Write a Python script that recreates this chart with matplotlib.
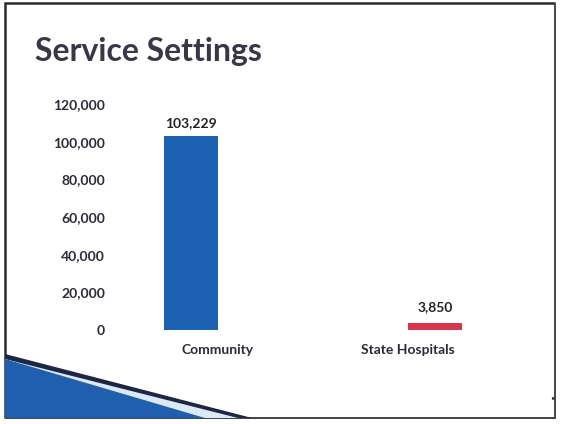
import matplotlib.pyplot as plt
from matplotlib.patches import Polygon

categories = ["Community", "State Hospitals"]
community = [103229, 0]
state_hospitals = [0, 3850]
yticks = [0, 20000, 40000, 60000, 80000, 100000, 120000]

W, H = 561, 424
plt.rcParams['font.family'] = ['Lato', 'DejaVu Sans']
fig = plt.figure(figsize=(W / 100, H / 100), dpi=100)
fig.patch.set_facecolor('white')


def px(x, y):
    # pixel position (from top-left) to figure fraction
    return x / W, 1 - y / H


def shape(points, closed=True, **kw):
    fig.patches.append(Polygon([px(*p) for p in points], closed=closed,
                               transform=fig.transFigure, **kw))


# slide frame
shape([(5, 418), (5, 3), (555, 3)], closed=False, fill=False,
      edgecolor='#2b2b2b', linewidth=1.8)
shape([(555, 3), (555, 418), (5, 418)], closed=False, fill=False,
      edgecolor='#444444', linewidth=1.4)

# corner swoosh
shape([(5, 354), (252, 418), (5, 418)], facecolor='#1b2744', edgecolor='none')
shape([(5, 359), (238, 418), (5, 418)], facecolor='#dce8f4', edgecolor='none')
shape([(5, 359), (205, 418), (5, 418)], facecolor='#1f5fae', edgecolor='none')

fig.text(*px(35, 52), "Service Settings", fontsize=23, fontweight='bold',
         color='#373749', va='center', ha='left')
fig.text(*px(552, 398), "\u2022", fontsize=5, color='#333333',
         ha='center', va='center')

l, b = px(123, 330)
r, t = px(503, 104)
ax = fig.add_axes([l, b, r - l, t - b])
ax.set_facecolor('none')

x = range(len(categories))
w = 0.285
ax.bar([i - w / 2 for i in x], community, w, color='#1d62b2')
ax.bar([i + w / 2 for i in x], state_hospitals, w, color='#d6364e')

ax.annotate(f"{community[0]:,}", (0 - w / 2, community[0]),
            xytext=(0, 5), textcoords='offset points', ha='center',
            va='bottom', fontsize=10, fontweight='bold', color='#222222')
ax.annotate(f"{state_hospitals[1]:,}", (1 + w / 2, state_hospitals[1]),
            xytext=(0, 7), textcoords='offset points', ha='center',
            va='bottom', fontsize=10, fontweight='bold', color='#222222')

ax.set_xlim(-0.5, 1.5)
ax.set_ylim(0, 120000)
ax.set_xticks(list(x))
ax.set_xticklabels(categories, fontsize=10, fontweight='bold',
                   color='#2a2a3a')
ax.set_yticks(yticks)
ax.set_yticklabels([f"{v:,}" for v in yticks], fontsize=10,
                   fontweight='bold', color='#2a2a3a')
ax.tick_params(axis='y', length=0, pad=13)
ax.tick_params(axis='x', length=0, pad=10)
for s in ax.spines.values():
    s.set_visible(False)

fig.savefig('out.png', dpi=100)
